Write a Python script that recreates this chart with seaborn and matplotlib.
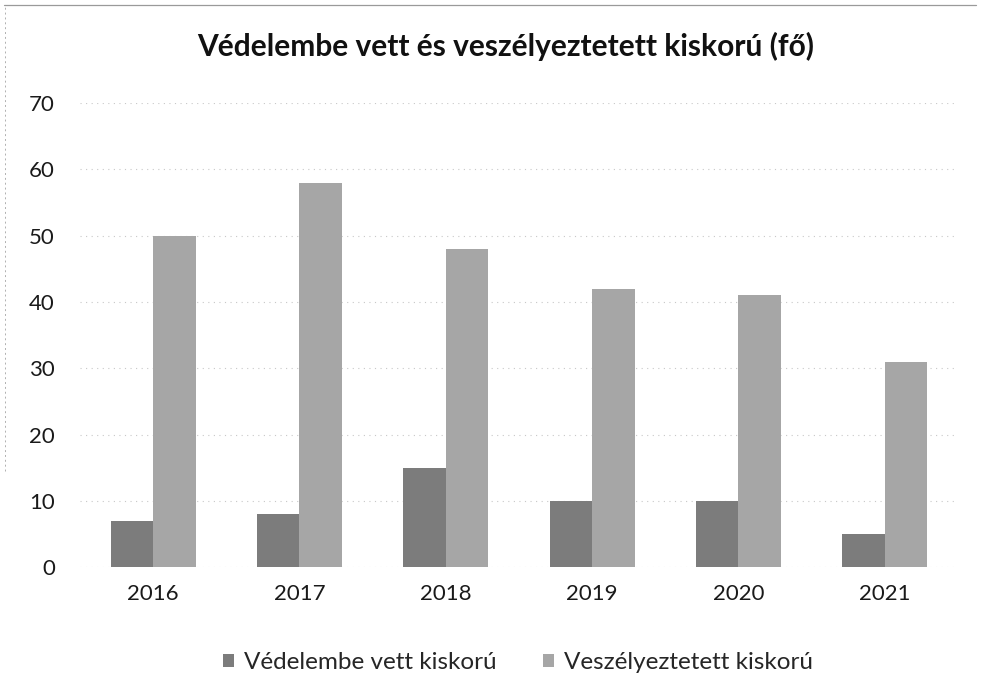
import numpy as np
import pandas as pd
import seaborn as sns
import matplotlib.pyplot as plt
from matplotlib.lines import Line2D

years = ["2016", "2017", "2018", "2019", "2020", "2021"]
vedelembe = [7, 8, 15, 10, 10, 5]
veszelyeztetett = [50, 58, 48, 42, 41, 31]
series_names = ["Védelembe vett kiskorú", "Veszélyeztetett kiskorú"]

df = pd.DataFrame({
    "év": years * 2,
    "fő": vedelembe + veszelyeztetett,
    "csoport": [series_names[0]] * len(years) + [series_names[1]] * len(years),
})

sns.set_theme(style="white")
plt.rcParams["font.family"] = ["Lato", "DejaVu Sans"]

fig = plt.figure(figsize=(9.81, 6.73), dpi=100)
ax = fig.add_axes([0.0815, 0.157, 0.895, 0.69])

sns.barplot(data=df, x="év", y="fő", hue="csoport", ax=ax,
            palette=["#7c7c7c", "#a6a6a6"], width=0.58, saturation=1,
            linewidth=0, legend=True)

ax.set_ylim(0, 70)
ax.set_yticks(range(0, 71, 10))
ax.yaxis.grid(True, color="#c8c8c8", linestyle=(0, (1, 4)), linewidth=0.8)
ax.set_axisbelow(True)
for s in ax.spines.values():
    s.set_visible(False)
ax.set_xlabel("")
ax.set_ylabel("")
ax.tick_params(axis="both", labelsize=16, colors="#1a1a1a", length=0)
ax.tick_params(axis="y", pad=18)
ax.tick_params(axis="x", pad=12)

fig.suptitle("Védelembe vett és veszélyeztetett kiskorú (fő)", x=0.515, y=0.952,
             fontsize=21.5, fontweight="bold", color="#111111")

handles, labels = ax.get_legend_handles_labels()
ax.get_legend().remove()
fig.legend(handles, labels, loc="center", bbox_to_anchor=(0.528, 0.016), ncol=2,
           frameon=False, fontsize=17.5, handlelength=0.45, handleheight=0.45,
           columnspacing=1.9, handletextpad=0.42, borderaxespad=0, borderpad=0)

# faint scanned frame, top and left only
fig.add_artist(Line2D([0.004, 0.995], [0.992, 0.992], transform=fig.transFigure,
                      color="#9a9a9a", linewidth=0.9))
fig.add_artist(Line2D([0.005, 0.005], [0.3, 0.992], transform=fig.transFigure,
                      color="#b0b0b0", linewidth=0.7, linestyle=(0, (2, 3))))

fig.savefig("out.png", dpi=100)
